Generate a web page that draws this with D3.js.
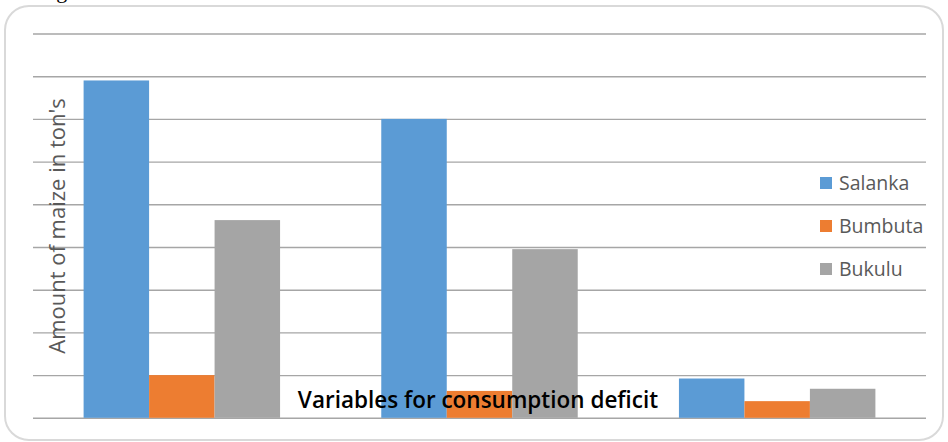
<!DOCTYPE html>
<html>
<head>
<meta charset="utf-8">
<script src="https://cdn.jsdelivr.net/npm/d3@7"></script>
<style>
  html, body { margin: 0; padding: 0; background: #fff; }
  svg { display: block; }
</style>
</head>
<body>
<script>
// Maize consumption deficit by village
const categories = ["Deficit A", "Deficit B", "Deficit C"];
const seriesNames = ["Salanka", "Bumbuta", "Bukulu"];
const salanka = [79, 70, 9.2];
const bumbuta = [10, 6.3, 3.9];
const bukulu = [46.3, 39.5, 6.8];
const yTicks = [0, 10, 20, 30, 40, 50, 60, 70, 80, 90];
const colors = ["#5B9BD5", "#ED7D31", "#A5A5A5"];

const W = 948, H = 442;
const plot = { left: 33, right: 926, top: 33.5, bottom: 417.8 };

const svg = d3.select("body").append("svg").attr("width", W).attr("height", H);

// Caption above the chart frame (mostly clipped at the top edge)
svg.append("text")
  .attr("x", 38).attr("y", -2)
  .attr("font-family", "Liberation Serif, serif")
  .attr("font-size", 22)
  .attr("fill", "#000")
  .text("Fig");

// Chart frame
svg.append("rect")
  .attr("x", 5).attr("y", 6)
  .attr("width", 938).attr("height", 434)
  .attr("rx", 24).attr("ry", 24)
  .attr("fill", "#fff")
  .attr("stroke", "#d9d9d9")
  .attr("stroke-width", 2);

const x0 = d3.scaleBand().domain(categories)
  .range([plot.left, plot.right])
  .paddingInner(0.34).paddingOuter(0.17);
const x1 = d3.scaleBand().domain(seriesNames)
  .range([0, x0.bandwidth()]);
const y = d3.scaleLinear().domain([0, 90]).range([plot.bottom, plot.top]);
const color = d3.scaleOrdinal().domain(seriesNames).range(colors);

// Horizontal gridlines (no tick labels)
const grid = d3.axisLeft(y).tickValues(yTicks)
  .tickSize(-(plot.right - plot.left)).tickFormat("");
svg.append("g")
  .attr("transform", `translate(${plot.left},0)`)
  .call(grid)
  .call(g => g.select(".domain").remove())
  .call(g => g.selectAll(".tick line")
    .attr("stroke", "#a6a6a6").attr("stroke-width", 1.4));

const values = { Salanka: salanka, Bumbuta: bumbuta, Bukulu: bukulu };
const rows = categories.map((c, i) => ({
  cat: c,
  items: seriesNames.map(s => ({ key: s, value: values[s][i] }))
}));

svg.append("g").selectAll("g")
  .data(rows).join("g")
  .attr("transform", d => `translate(${x0(d.cat)},0)`)
  .selectAll("rect")
  .data(d => d.items).join("rect")
  .attr("x", d => x1(d.key))
  .attr("y", d => y(d.value))
  .attr("width", x1.bandwidth())
  .attr("height", d => y(0) - y(d.value))
  .attr("fill", d => color(d.key));

// Axis titles
svg.append("text")
  .attr("transform", `translate(65,226) rotate(-90)`)
  .attr("text-anchor", "middle")
  .attr("font-family", "Open Sans, sans-serif")
  .attr("font-size", 22)
  .attr("fill", "#595959")
  .text("Amount of maize in ton's");

svg.append("text")
  .attr("x", 478).attr("y", 408)
  .attr("text-anchor", "middle")
  .attr("font-family", "Open Sans, sans-serif")
  .attr("font-weight", "600")
  .attr("font-size", 22.5)
  .attr("fill", "#000")
  .text("Variables for consumption deficit");

// Legend
const legend = svg.append("g").selectAll("g")
  .data(seriesNames).join("g")
  .attr("transform", (d, i) => `translate(820,${183 + i * 43})`);
legend.append("rect")
  .attr("x", 0).attr("y", -6).attr("width", 12).attr("height", 12)
  .attr("fill", d => color(d));
legend.append("text")
  .attr("x", 19).attr("y", 6.5)
  .attr("font-family", "Open Sans, sans-serif")
  .attr("font-size", 19.5)
  .attr("fill", "#595959")
  .text(d => d);
</script>
</body>
</html>
